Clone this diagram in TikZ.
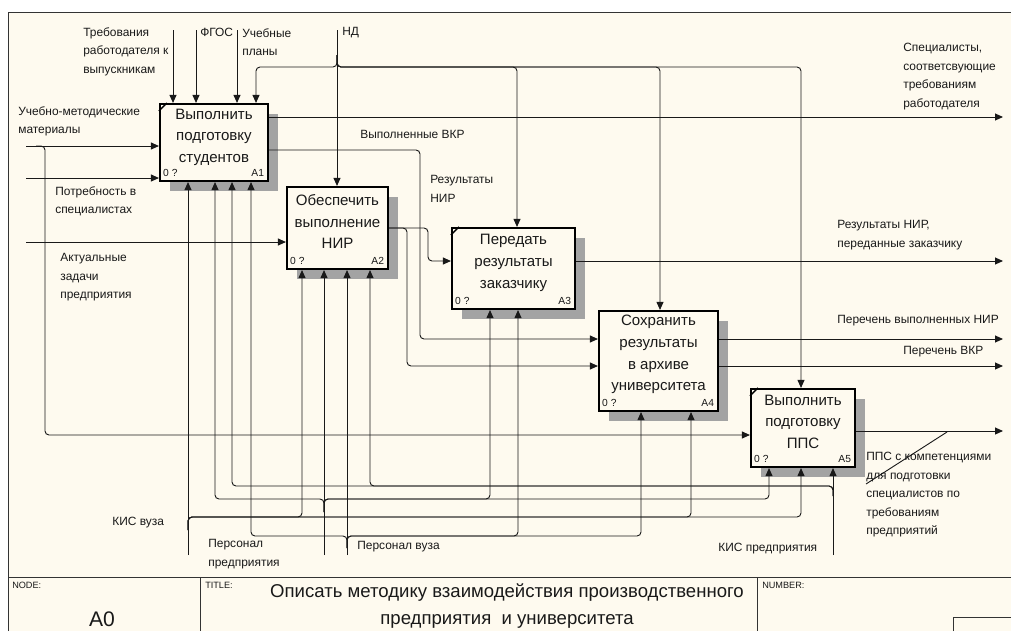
\documentclass[tikz,border=0pt]{standalone}
\usepackage{fontspec}
\setmainfont{Liberation Sans}
\usetikzlibrary{arrows.meta,shadows}
\definecolor{bg}{RGB}{254,250,239}
\definecolor{ink}{RGB}{25,25,25}

\begin{document}
\begin{tikzpicture}[x=0.025cm,y=-0.025cm,
  every node/.style={text=ink},
  wire/.style={draw=ink, line width=0.65pt},
  arr/.style={wire, -{Triangle[length=2mm,width=1.75mm]}},
  rc/.style={rounded corners=1mm},
  fn/.style={draw=black, line width=1.5pt, fill=bg, inner sep=0pt,
    general shadow={shadow xshift=2.4mm, shadow yshift=-2.4mm, fill=black!36}},
  fntext/.style={font=\fontsize{10.7}{15.4}\selectfont, align=center, inner sep=0pt},
  lbl/.style={font=\fontsize{8.5}{13.2}\selectfont, align=left, inner sep=0pt, anchor=north west},
  tag/.style={font=\fontsize{7.3}{8}\selectfont, inner sep=0pt},
  tick/.style={draw=black, line width=0.9pt},
  frame/.style={draw=black!80, line width=0.7pt},
  tblab/.style={font=\fontsize{6.5}{7}\selectfont, inner sep=0pt, anchor=north west}]

% page and sheet
\useasboundingbox (0,0) rectangle (1011,631);
\fill[white] (0,0) rectangle (1011,631);
\fill[bg] (8,12) rectangle (1011,631);

% activity boxes
\node[fn, minimum width=2.7cm,   minimum height=1.925cm] (A1) at (214,142.5) {};
\node[fn, minimum width=2.525cm, minimum height=2.05cm]  (A2) at (337.5,228) {};
\node[fn, minimum width=3.075cm, minimum height=2.025cm] (A3) at (513.5,268.5) {};
\node[fn, minimum width=2.975cm, minimum height=2.5cm]   (A4) at (658.5,361) {};
\node[fn, minimum width=2.6cm,   minimum height=1.95cm]  (A5) at (803,428) {};

\node[fntext] (A1t) at ([yshift=1.3mm]A1.center) {Выполнить\\подготовку\\студентов};
\node[fntext] (A2t) at ([yshift=1.6mm]A2.center) {Обеспечить\\выполнение\\НИР};
\node[fntext] (A3t) at ([yshift=1.4mm]A3.center) {Передать\\результаты\\заказчику};
\node[fntext] (A4t) at ([yshift=1.6mm]A4.center) {Сохранить\\результаты\\в архиве\\университета};
\node[fntext] (A5t) at ([yshift=1.6mm]A5.center) {Выполнить\\подготовку\\ППС};

\foreach \b/\n in {A1/A1,A2/A2,A3/A3,A4/A4,A5/A5}{
  \node[tag, anchor=south west] (\b z) at ([xshift=1mm,yshift=1.3mm]\b.south west) {0 ?};
  \node[tag, anchor=south east] (\b n) at ([xshift=-1.2mm,yshift=1.3mm]\b.south east) {\n};
}
\foreach \b in {A1,A3,A5}{
  \draw[tick] ([yshift=-2mm]\b.north west) -- ([xshift=2mm]\b.north west);
}

% free ends of the boundary arrows
\coordinate (inUM) at (26,146);
\coordinate (inPS) at (26,178);
\coordinate (inAZ) at (26,242);
\coordinate (cTR) at (173,30);
\coordinate (cFG) at (196,30);
\coordinate (cUP) at (237,30);
\coordinate (cND) at (337,30);
\coordinate (oSP) at (1003,117);
\coordinate (oRN) at (1003,261);
\coordinate (oPN) at (1003,339);
\coordinate (oPV) at (1003,366);
\coordinate (oPPS) at (1003,431);
\coordinate (mKV) at (188,555);
\coordinate (mPP) at (324,555);
\coordinate (mPV) at (347,555);
\coordinate (mKP) at (833,555);

% inputs
\draw[arr] (inUM) -- (inUM -| A1.west);
\draw[arr,rc] (36,146) -| (45,435) -- (45,435 -| A5.west);
\draw[arr] (inPS) -- (inPS -| A1.west);
\draw[arr] (inAZ) -- (inAZ -| A2.west);

% controls
\draw[arr] (cTR) -- (cTR |- A1.north);
\draw[arr] (cFG) -- (cFG |- A1.north);
\draw[arr] (cUP) -- (cUP |- A1.north);
\draw[arr] (cND) -- (cND |- A2.north);
\draw[arr,rc] (337,55) |- (256,67) -- (256,0 |- A1.north);
\draw[arr,rc] (337,55) |- (517,67) -- (517,0 |- A3.north);
\draw[arr,rc] (337,55) |- (660,67) -- (660,0 |- A4.north);
\draw[arr,rc] (337,55) |- (801,67) -- (801,0 |- A5.north);

% outputs and feedback between activities
\draw[arr] (oSP -| A1.east) -- (oSP);
\draw[arr,rc] (A1.east |- 0,150) -| (420,339) -- (A4.west |- 0,339);
\draw[arr,rc] (A2.east |- 0,228) -| (428,261) -- (A3.west |- 0,261);
\draw[arr,rc] (A2.east |- 0,228) -| (407,366) -- (A4.west |- 0,366);
\draw[arr] (oRN -| A3.east) -- (oRN);
\draw[arr] (oPN -| A4.east) -- (oPN);
\draw[arr] (oPV -| A4.east) -- (oPV);
\draw[arr] (oPPS -| A5.east) -- (oPPS);
\draw[wire] (866,484) -- (947,432);

% mechanisms
\draw[arr] (mKV) -- (mKV |- A1.south);
\draw[arr,rc] (188,530) |- (302,517) -- (302,0 |- A2.south);
\draw[arr,rc] (188,530) |- (691,517) -- (691,0 |- A4.south);
\draw[arr,rc] (188,530) |- (801,517) -- (801,0 |- A5.south);

\draw[arr] (mPP) -- (mPP |- A2.south);
\draw[arr,rc] (324,512) |- (215,499) -- (215,0 |- A1.south);
\draw[arr,rc] (324,512) |- (490,499) -- (490,0 |- A3.south);
\draw[arr,rc] (324,512) |- (769,499) -- (769,0 |- A5.south);

\draw[arr] (mPV) -- (mPV |- A2.south);
\draw[arr,rc] (347,548) |- (251,536) -- (251,0 |- A1.south);
\draw[arr,rc] (347,548) |- (518,536) -- (518,0 |- A3.south);
\draw[arr,rc] (347,548) |- (641,536) -- (641,0 |- A4.south);

\draw[arr] (mKP) -- (mKP |- A5.south);
\draw[arr,rc] (833,496) |- (370,486) -- (370,0 |- A2.south);
\draw[arr,rc] (833,496) |- (232,486) -- (232,0 |- A1.south);

% arrow labels
\node[lbl] (lTR) at (83,27) {Требования\\работодателя к\\выпускникам};
\node[lbl] (lFG) at (200,28) {ФГОС};
\node[lbl] (lUP) at (242,28) {Учебные\\планы};
\node[lbl] (lND) at (342,27) {НД};
\node[lbl] (lUM) at (18,106) {Учебно-методические\\материалы};
\node[lbl] (lPS) at (55,186) {Потребность в\\специалистах};
\node[lbl] (lAZ) at (60,253) {Актуальные\\задачи\\предприятия};
\node[lbl] (lVK) at (360,130) {Выполненные ВКР};
\node[lbl] (lRN) at (430,175) {Результаты\\НИР};
\node[lbl] (lSP) at (903,43) {Специалисты,\\соответсвующие\\требованиям\\работодателя};
\node[lbl] (lRZ) at (837,220) {Результаты НИР,\\переданные заказчику};
\node[lbl] (lPN) at (837,315) {Перечень выполненных НИР};
\node[lbl] (lPV) at (903,346) {Перечень ВКР};
\node[lbl] (lPPS) at (866,452) {ППС с компетенциями\\для подготовки\\специалистов по\\требованиям\\предприятий};
\node[lbl] (lKV) at (112,517) {КИС вуза};
\node[lbl] (lPP) at (208,539) {Персонал\\предприятия};
\node[lbl] (lPVz) at (357,541) {Персонал вуза};
\node[lbl] (lKP) at (718,543) {КИС предприятия};

% sheet frame and title block
\draw[frame] (8,631) -- (8,12) -- (1011,12);
\draw[frame] (8,577) -- (1011,577);
\draw[frame] (200,577) -- (200,631);
\draw[frame] (757,577) -- (757,631);
\draw[frame] (953,631) -- (953,617) -- (1011,617);
\node[tblab] (tNode) at (12,582) {NODE:};
\node[tblab] (tTitle) at (205,582) {TITLE:};
\node[tblab] (tNum) at (762,582) {NUMBER:};
\node[font=\fontsize{15}{15}\selectfont, inner sep=0pt] (tA0) at (102,619) {A0};
\node[font=\fontsize{13.2}{19.2}\selectfont, align=center, inner sep=0pt] (tT) at (507,606)
  {Описать методику взаимодействия производственного\\предприятия~ и университета};
\end{tikzpicture}
\end{document}
